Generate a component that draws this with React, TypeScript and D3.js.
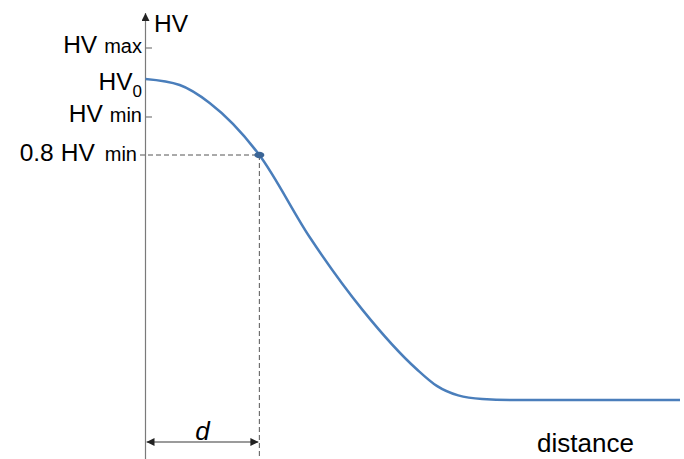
import React from "react";
import * as d3 from "d3";

// Hardness profile: HV against distance from the surface (schematic units)
const distance = [0, 6.4, 12, 21.3, 30.7, 40.6, 50.7, 54.5, 58.5, 63, 70, 100];
const hardness = [91.2, 89.5, 84.4, 69.6, 46.3, 25.6, 8.8, 4.0, 1.3, 0.3, 0, 0];

// Reference levels on the HV axis
const levelNames = ["HV max", "HV0", "HV min", "0.8 HV min"];
const levelValues = [100, 91.2, 80.4, 69.6];

// Depth d where the profile crosses 0.8 HV min
const depthD = 21.3;
const depthLabel = "d";
const xTitle = "distance";
const yTitle = "HV";

const W = 684;
const H = 459;

export default function App() {
  const x = d3.scaleLinear().domain([0, 100]).range([145.5, 680]);
  const y = d3.scaleLinear().domain([0, 100]).range([400, 48]);

  const pts = distance.map((d, i) => [d, hardness[i]] as [number, number]);
  const line = d3
    .line<[number, number]>()
    .x((p) => x(p[0]))
    .y((p) => y(p[1]))
    .curve(d3.curveMonotoneX);

  const x0 = x(0);
  const xd = x(depthD);
  const yd = y(levelValues[3]);
  const axisColor = "#7a7a7a";
  const font = "Liberation Sans, Arial, sans-serif";
  const big = 24.5;
  const small = 20;

  return (
    <svg
      width={W}
      height={H}
      style={{ position: "absolute", left: 0, top: 0, background: "#fff" }}
      fontFamily={font}
    >
      <defs>
        <marker id="arrowHead" viewBox="0 0 10 10" refX="10" refY="5" markerWidth="8" markerHeight="8" markerUnits="userSpaceOnUse" orient="auto-start-reverse">
          <path d="M0,0 L10,5 L0,10 z" fill="#222" />
        </marker>
        <marker id="arrowUp" viewBox="0 0 10 10" refX="10" refY="5" markerWidth="10" markerHeight="8" markerUnits="userSpaceOnUse" orient="auto">
          <path d="M0,0 L10,5 L0,10 z" fill="#222" />
        </marker>
      </defs>

      {/* guide lines to the 0.8 HV min point */}
      <line x1={140} x2={xd} y1={yd} y2={yd} stroke="#555" strokeWidth={1} strokeDasharray="5,3" />
      <line x1={xd} x2={xd} y1={yd} y2={H} stroke="#555" strokeWidth={1} strokeDasharray="5,3" />

      {/* HV axis */}
      <line x1={x0} x2={x0} y1={H} y2={13} stroke={axisColor} strokeWidth={1.2} markerEnd="url(#arrowUp)" />
      {[levelValues[0], levelValues[2]].map((v, i) => (
        <line key={i} x1={x0} x2={x0 + 6.5} y1={y(v)} y2={y(v)} stroke={axisColor} strokeWidth={1.2} />
      ))}
      <text x={154} y={32} fontSize={big} fill="#000">{yTitle}</text>

      {/* level labels */}
      <text x={142} y={y(levelValues[0]) + 5} textAnchor="end" fill="#000">
        <tspan fontSize={big}>HV</tspan>
        <tspan fontSize={small} dx={7}>max</tspan>
      </text>
      <text x={142} y={y(levelValues[1]) + 11} textAnchor="end" fill="#000">
        <tspan fontSize={big}>HV</tspan>
        <tspan fontSize={17} dy={7}>0</tspan>
      </text>
      <text x={142} y={y(levelValues[2]) + 5} textAnchor="end" fill="#000">
        <tspan fontSize={big}>HV</tspan>
        <tspan fontSize={small} dx={7}>min</tspan>
      </text>
      <text x={137} y={yd + 6} textAnchor="end" fill="#000">
        <tspan fontSize={big}>0.8</tspan>
        <tspan fontSize={big} dx={7}>HV</tspan>
        <tspan fontSize={small} dx={10}>min</tspan>
      </text>

      {/* hardness profile */}
      <path d={line(pts) ?? ""} fill="none" stroke="#4a7ebb" strokeWidth={2.5} />
      <ellipse cx={xd} cy={yd} rx={5} ry={3.2} fill="#3b6596" />

      {/* depth d dimension */}
      <line x1={x0 + 1} x2={xd - 1} y1={442} y2={442} stroke={axisColor} strokeWidth={1.5} markerStart="url(#arrowHead)" markerEnd="url(#arrowHead)" />
      <text x={(x0 + xd) / 2} y={440} textAnchor="middle" fontSize={26} fontStyle="italic" fill="#000">{depthLabel}</text>

      <text x={537} y={452} fontSize={26} fill="#000">{xTitle}</text>
    </svg>
  );
}
